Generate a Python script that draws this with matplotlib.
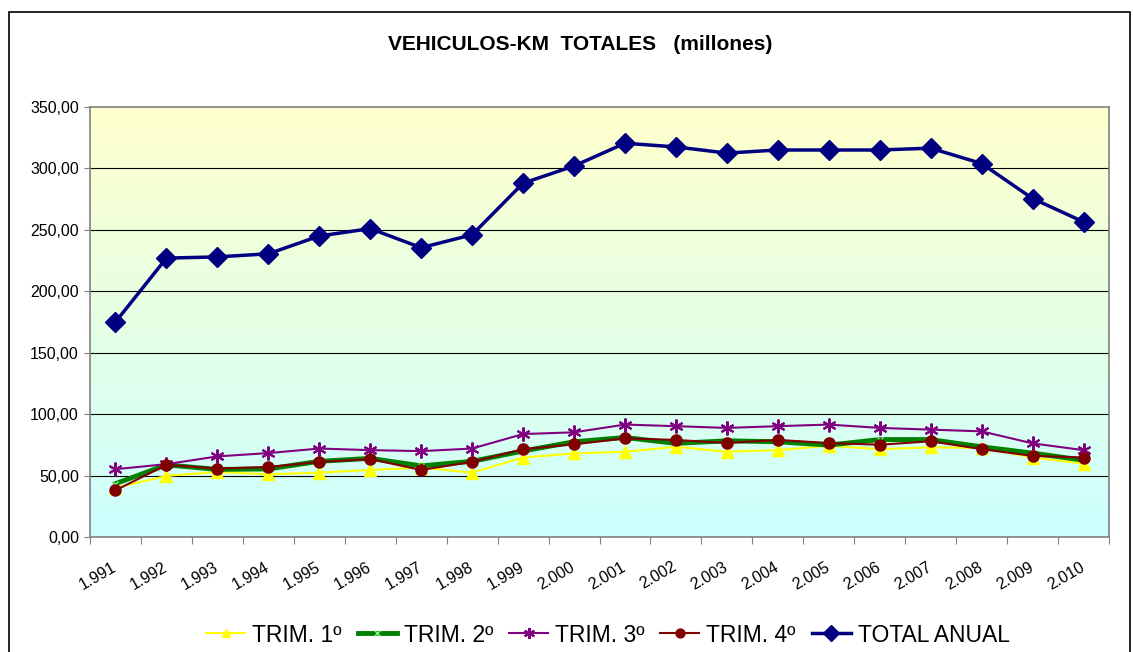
import numpy as np
import matplotlib
matplotlib.use("Agg")
import matplotlib.pyplot as plt
from matplotlib.patches import Rectangle
from matplotlib.colors import LinearSegmentedColormap
import matplotlib.transforms as mtransforms

plt.rcParams['font.family'] = ['Liberation Sans', 'DejaVu Sans']

years = ["1.991", "1.992", "1.993", "1.994", "1.995", "1.996", "1.997", "1.998", "1.999", "2.000",
         "2.001", "2.002", "2.003", "2.004", "2.005", "2.006", "2.007", "2.008", "2.009", "2.010"]
trim1 = [40.0, 49.7, 53.0, 51.0, 52.4, 54.6, 56.5, 52.4, 64.7, 68.0,
         69.4, 73.4, 69.4, 70.7, 74.3, 71.5, 73.0, 72.5, 64.7, 59.8]
trim2 = [43.4, 58.7, 55.0, 55.4, 61.6, 64.0, 57.9, 61.6, 70.0, 77.5,
         81.0, 76.2, 78.3, 77.5, 74.8, 79.3, 79.3, 73.4, 68.3, 62.5]
trim3 = [55.2, 59.3, 65.6, 68.3, 72.0, 70.7, 69.9, 72.0, 83.8, 85.2,
         91.5, 90.2, 88.8, 90.2, 91.5, 88.8, 87.4, 86.0, 76.2, 70.7]
trim4 = [38.0, 58.7, 55.7, 57.0, 61.1, 63.4, 54.6, 61.1, 71.5, 75.4,
         80.3, 79.0, 76.5, 79.0, 76.5, 75.1, 77.9, 71.5, 66.0, 64.7]
total = [175.0, 227.0, 228.0, 230.5, 245.0, 251.0, 235.5, 246.0, 288.0, 302.0,
         320.5, 317.5, 312.5, 315.0, 315.0, 315.0, 316.5, 304.0, 275.5, 256.5]
yticks = [0, 50, 100, 150, 200, 250, 300, 350]
title = "VEHICULOS-KM  TOTALES   (millones)"

fig = plt.figure(figsize=(11.33, 6.52), dpi=100)
ax = fig.add_axes([90/1133, 1-537/652, (1109-90)/1133, (537-107)/652])

n = len(years)
x = np.arange(n)

# gradient background
cmap = LinearSegmentedColormap.from_list("bg", ["#CCFFFF", "#FFFFCC"])
grad = np.linspace(0, 1, 256).reshape(-1, 1)
ax.imshow(grad, extent=(-0.5, n-0.5, 0, 350), origin='lower', aspect='auto', cmap=cmap, zorder=0)

for yv in yticks[1:-1]:
    ax.axhline(yv, color='black', lw=0.8, zorder=1)

ax.plot(x, trim1, color='#FFFF00', lw=1.5, marker='^', ms=8, mfc='#FFFF00', mec='#FFFF00', zorder=3, label='TRIM. 1º')
ax.plot(x, trim2, color='#008000', lw=3.5, marker='x', ms=5, mec='#90EE90', mew=1, zorder=3, label='TRIM. 2º')
ax.plot(x, trim3, color='#800080', lw=1.5, marker=(6, 2, 0), ms=10, mec='#800080', mew=1.5, zorder=4, label='TRIM. 3º')
ax.plot(x, trim4, color='#800000', lw=1.5, marker='o', ms=8, mfc='#800000', mec='#800000', zorder=5, label='TRIM. 4º')
ax.plot(x, total, color='#000080', lw=2.5, marker='D', ms=10, mfc='#000080', mec='#000080', zorder=6, label='TOTAL ANUAL')

ax.set_xlim(-0.5, n-0.5)
ax.set_ylim(0, 350)
ax.set_yticks(yticks)
ax.set_yticklabels([f"{v:.2f}".replace('.', ',') for v in yticks], fontsize=11.5)
ax.tick_params(axis='y', length=4, color='#808080', pad=4)

ax.set_xticks(np.arange(n+1) - 0.5)
ax.set_xticklabels([])
ax.tick_params(axis='x', which='major', length=5, color='#808080')
ax.set_xticks(x, minor=True)
ax.set_xticklabels(years, minor=True, fontsize=11.5, rotation=30, ha='right', va='top', rotation_mode='anchor')
ax.tick_params(axis='x', which='minor', length=0, pad=16)
offset = mtransforms.ScaledTranslation(-4/100, 0, fig.dpi_scale_trans)
for lab in ax.get_xticklabels(minor=True):
    lab.set_transform(lab.get_transform() + offset)

for s in ['left', 'bottom', 'right', 'top']:
    ax.spines[s].set_color('#808080')
    ax.spines[s].set_linewidth(1.2)

fig.text(580/1133, 1-45/652, title, ha='center', va='center', fontsize=15, fontweight='bold')

fig.legend(loc='center', bbox_to_anchor=(608/1133, 1-635/652), ncol=5, frameon=False,
           fontsize=16.5, handlelength=1.7, handletextpad=0.3, columnspacing=0.7, markerscale=0.8)

fig.patches.append(Rectangle((9/1133, -0.05), (1130-9)/1133, 1.05-12/652, transform=fig.transFigure,
                             fill=False, edgecolor='black', lw=1.2))

fig.savefig("out.png", dpi=100)
